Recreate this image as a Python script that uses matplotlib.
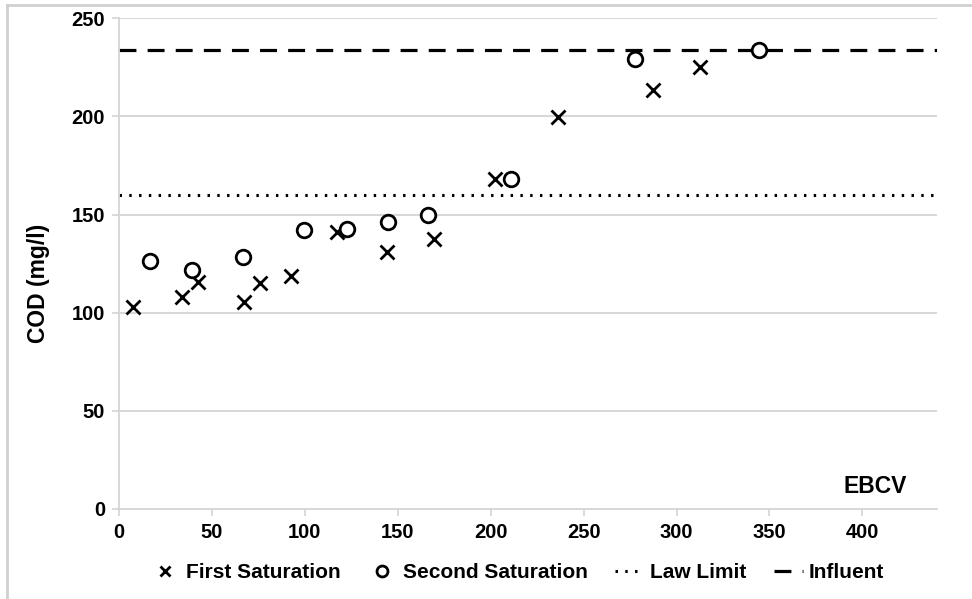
# COD vs EBCV scatter with law limit and influent reference lines
import matplotlib
matplotlib.use('Agg')
import matplotlib.pyplot as plt
from matplotlib.lines import Line2D

first_x = [7.7, 33.7, 42.3, 67.2, 75.8, 92.5, 117.4, 144.0, 169.4, 202.2, 236.3, 287.1, 312.5]
first_y = [102.8, 108.2, 115.8, 105.6, 115.3, 118.7, 141.3, 131.1, 137.4, 168.0, 199.9, 213.4, 225.0]

second_x = [16.7, 39.1, 66.5, 99.7, 122.5, 144.9, 166.4, 211.2, 277.6, 344.4]
second_y = [126.3, 121.8, 128.2, 142.1, 142.6, 146.4, 149.8, 168.0, 229.1, 233.8]

law_limit = 160
influent = 234

x_ticks = [0, 50, 100, 150, 200, 250, 300, 350, 400]
y_ticks = [0, 50, 100, 150, 200, 250]


def main():
    plt.rcParams['font.family'] = ['Liberation Sans', 'DejaVu Sans']
    plt.rcParams['font.weight'] = 'bold'

    fig = plt.figure(figsize=(9.72, 5.99), dpi=100)
    ax = fig.add_axes([0.1224, 0.1503, 0.8413, 0.8191])

    grid_col = '#d4d4d4'
    for y in y_ticks[1:]:
        ax.axhline(y, color=grid_col, lw=1.3, zorder=0)

    ax.axhline(law_limit, color='black', lw=2.2, linestyle=(0, (0.8, 2.4)),
               label='Law Limit', zorder=1)
    ax.axhline(influent, color='black', lw=2.3, linestyle=(0, (5.3, 3.5)),
               label='Influent', zorder=1)

    ax.plot(first_x, first_y, 'x', color='black', ms=10, mew=2,
            label='First Saturation', zorder=3)
    ax.plot(second_x, second_y, 'o', color='black', mfc='white', ms=10.5, mew=2,
            label='Second Saturation', zorder=3)

    ax.set_xlim(0, 440)
    ax.set_ylim(0, 250)
    ax.set_xticks(x_ticks)
    ax.set_yticks(y_ticks)
    ax.tick_params(axis='both', which='major', direction='out', length=5,
                   width=1.2, color=grid_col, labelsize=14.5, pad=5)
    for lbl in ax.get_xticklabels() + ax.get_yticklabels():
        lbl.set_fontweight('bold')

    for side in ['top', 'right']:
        ax.spines[side].set_visible(False)
    for side in ['left', 'bottom']:
        ax.spines[side].set_color(grid_col)
        ax.spines[side].set_linewidth(1.3)

    ax.set_ylabel('COD (mg/l)', fontsize=16.5, fontweight='bold')
    ax.yaxis.set_label_coords(-0.084, 0.46)
    ax.text(0.925, 0.045, 'EBCV', transform=ax.transAxes, ha='center', va='center',
            fontsize=16.5, fontweight='bold')

    handles, labels = ax.get_legend_handles_labels()
    order = [2, 3, 0, 1]
    leg = ax.legend([handles[i] for i in order], [labels[i] for i in order],
                    loc='center', bbox_to_anchor=(0.487, -0.13), ncol=4,
                    frameon=False, fontsize=15, handlelength=1.4,
                    handletextpad=0.3, columnspacing=1.3, markerscale=0.75)
    for t in leg.get_texts():
        t.set_fontweight('bold')

    # light frame around the chart area
    fig.add_artist(Line2D([7 / 972, 7 / 972], [0, 1 - 5 / 599], transform=fig.transFigure,
                          color='#d0d0d0', lw=2))
    fig.add_artist(Line2D([7 / 972, 1], [1 - 5 / 599, 1 - 5 / 599], transform=fig.transFigure,
                          color='#d0d0d0', lw=2))

    fig.savefig('out.png', dpi=100)
    plt.close(fig)


if __name__ == '__main__':
    main()
